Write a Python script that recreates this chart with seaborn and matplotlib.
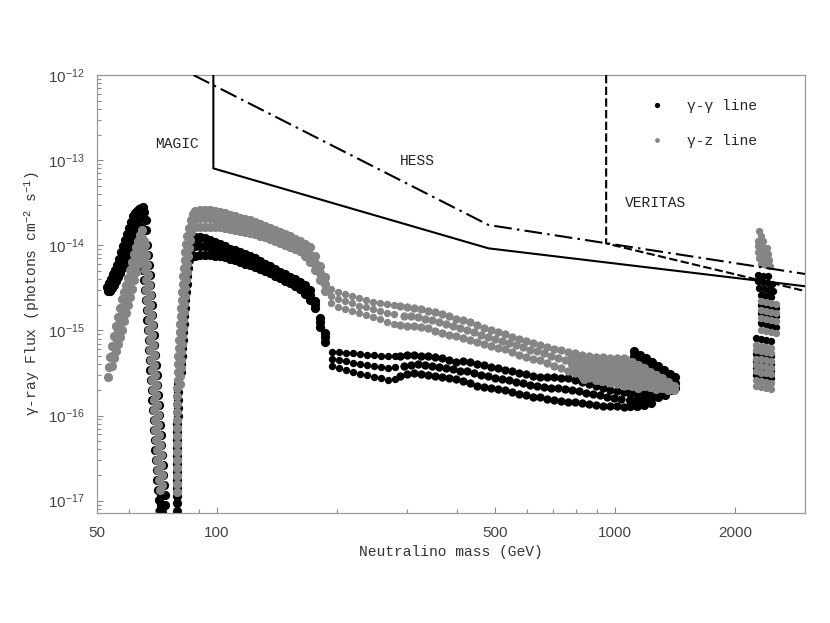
import matplotlib
matplotlib.use("Agg")
import matplotlib.pyplot as plt
import pandas as pd
import seaborn as sns
from matplotlib.lines import Line2D
from matplotlib.ticker import (FixedLocator, FixedFormatter, NullFormatter,
                               LogLocator, LogFormatterSciNotation)

# ------------------------------------------------------------------
# DATA (mass in GeV, flux in photons cm^-2 s^-1)
# ------------------------------------------------------------------
# ---- gamma-gamma line (black) ----
gg_peak_hi_m = [52.98, 53.60, 54.22, 54.86, 55.50, 56.14, 56.80, 57.46, 58.13, 58.81, 59.50,
                60.19, 60.89, 61.60, 62.32, 63.05, 63.78, 64.53, 65.28, 65.8, 66.2, 66.4]
gg_peak_hi_f = [3.23e-15, 3.60e-15, 4.02e-15, 4.60e-15, 5.13e-15, 5.87e-15, 6.90e-15, 8.34e-15,
                9.82e-15, 1.15e-14, 1.36e-14, 1.60e-14, 1.88e-14, 2.21e-14, 2.39e-14, 2.53e-14,
                2.67e-14, 2.74e-14, 2.81e-14, 2.46e-14, 1.98e-14, 1.51e-14]
gg_peak_lo_m = [53.29, 53.91, 54.54, 55.18, 55.82, 56.47, 57.13, 57.80, 58.47, 59.16, 59.84,
                60.54, 61.25, 61.96, 62.69, 63.42, 64.15, 64.90]
gg_peak_lo_f = [2.93e-15, 2.88e-15, 3.15e-15, 3.42e-15, 3.80e-15, 4.24e-15, 4.73e-15, 5.41e-15,
                6.03e-15, 6.72e-15, 7.69e-15, 8.57e-15, 9.82e-15, 1.12e-14, 1.25e-14, 1.43e-14,
                1.56e-14, 1.60e-14]
gg_peak_mid_m = [53.91, 54.54, 55.18, 55.82, 56.47, 57.13, 57.80, 58.47, 59.16, 59.84, 60.54,
                 61.25, 61.96, 62.69, 63.42, 64.15, 64.90]
gg_peak_mid_f = [3.28e-15, 3.70e-15, 4.07e-15, 4.60e-15, 5.20e-15, 6.03e-15, 6.99e-15, 8.01e-15,
                 9.17e-15, 1.06e-14, 1.22e-14, 1.41e-14, 1.60e-14, 1.76e-14, 1.93e-14, 2.04e-14,
                 2.09e-14]
gg_fall_l_m = [64.5, 64.7, 65.0, 65.4, 65.7, 66.0, 66.3, 66.6, 66.9, 67.1, 67.4, 67.6, 67.9, 68.1,
               68.4, 68.6, 68.9, 69.1, 69.4, 69.6, 69.8, 70.1, 70.4, 70.6, 70.9, 71.3, 71.6, 72.0]
gg_fall_l_f = [1.15e-14, 8.81e-15, 6.72e-15, 5.13e-15, 3.91e-15, 2.98e-15, 2.28e-15, 1.74e-15,
               1.33e-15, 1.01e-15, 7.72e-16, 5.89e-16, 4.49e-16, 3.43e-16, 2.62e-16, 2.00e-16,
               1.52e-16, 1.16e-16, 8.87e-17, 6.77e-17, 5.16e-17, 3.94e-17, 3.01e-17, 2.29e-17,
               1.75e-17, 1.34e-17, 1.02e-17, 7.77e-18]
gg_fall_r_m = [66.6, 67.0, 67.4, 67.8, 68.1, 68.4, 68.6, 68.9, 69.2, 69.5, 69.7, 70.0, 70.3, 70.6,
               70.9, 71.1, 71.4, 71.7, 72.0, 72.2, 72.5, 72.8, 73.1, 73.4, 73.6, 73.9, 74.1,
               72.46, 72.6, 72.7]
gg_fall_r_f = [1.01e-14, 7.69e-15, 5.87e-15, 4.48e-15, 3.42e-15, 2.61e-15, 1.99e-15, 1.52e-15,
               1.16e-15, 8.84e-16, 6.74e-16, 5.14e-16, 3.93e-16, 3.00e-16, 2.28e-16, 1.74e-16,
               1.33e-16, 1.02e-16, 7.75e-17, 5.91e-17, 4.51e-17, 3.44e-17, 2.63e-17, 2.00e-17,
               1.53e-17, 1.17e-17, 8.90e-18, 1.17e-17, 8.9e-18, 7.4e-18]
gg_col_m = [79.4, 79.4, 79.4, 79.4, 79.4, 79.4, 79.4, 79.4, 79.4, 79.4, 79.4, 79.4,
            80.1, 80.1, 80.1, 80.1, 80.1]
gg_col_f = [7.56e-18, 9.39e-18, 1.14e-17, 1.41e-17, 1.75e-17, 2.18e-17, 2.70e-17, 3.35e-17,
            4.16e-17, 5.16e-17, 6.42e-17, 7.96e-17, 9.88e-17, 1.23e-16, 1.52e-16, 1.89e-16, 2.35e-16]
gg_rise_m = [81.1, 81.3, 81.6, 81.8, 82.0, 82.3, 82.5, 82.8, 83.1, 83.4, 83.7, 84.0, 84.3, 84.7,
             85.2, 85.8, 86.5, 87.4, 88.4]
gg_rise_f = [3.25e-16, 4.03e-16, 5.01e-16, 6.22e-16, 7.72e-16, 9.60e-16, 1.19e-15, 1.48e-15,
             1.83e-15, 2.28e-15, 2.83e-15, 3.51e-15, 4.36e-15, 5.41e-15, 6.72e-15, 8.34e-15,
             9.82e-15, 1.09e-14, 1.19e-14]

band_m = [88.1, 90.7, 93.4, 96.1, 98.96, 101.9, 104.9, 108.0, 111.1, 114.4, 117.8, 121.2, 124.8,
          128.4, 132.2, 136.1, 140.1, 144.2, 148.4, 152.8, 157.3, 161.9, 166.6, 171.5, 176.6,
          181.7, 187.1]
gg_band_top = [1.25e-14, 1.25e-14, 1.22e-14, 1.15e-14, 1.09e-14, 1.04e-14, 9.82e-15, 9.05e-15,
               8.81e-15, 8.34e-15, 7.90e-15, 7.49e-15, 7.09e-15, 6.54e-15, 6.03e-15, 5.71e-15,
               5.27e-15, 4.86e-15, 4.60e-15, 4.24e-15, 4.02e-15, 3.70e-15, 3.42e-15, 2.98e-15,
               2.22e-15, 1.40e-15, 9.33e-16]
gg_band_mid = [9.69e-15, 9.82e-15, 9.69e-15, 9.43e-15, 9.05e-15, 8.75e-15, 8.46e-15, 7.90e-15,
               7.64e-15, 7.29e-15, 6.90e-15, 6.58e-15, 6.27e-15, 5.87e-15, 5.49e-15, 5.16e-15,
               4.79e-15, 4.45e-15, 4.18e-15, 3.88e-15, 3.65e-15, 3.37e-15, 3.02e-15, 2.61e-15,
               2.02e-15, 1.24e-15, 8.26e-16]
gg_band_bot = [7.49e-15, 7.69e-15, 7.69e-15, 7.69e-15, 7.49e-15, 7.39e-15, 7.29e-15, 6.90e-15,
               6.63e-15, 6.36e-15, 6.03e-15, 5.79e-15, 5.56e-15, 5.27e-15, 4.99e-15, 4.67e-15,
               4.36e-15, 4.07e-15, 3.80e-15, 3.56e-15, 3.32e-15, 3.07e-15, 2.68e-15, 2.28e-15,
               1.83e-15, 1.10e-15, 7.32e-16]

gg_streak_m = [194.8, 202.8, 211.2, 219.9, 229.0, 238.8, 248.3, 258.6, 269.2, 280.4]
gg_streak_top = [5.58e-16, 5.50e-16, 5.43e-16, 5.36e-16, 5.29e-16, 5.14e-16, 5.14e-16, 5.01e-16,
                 4.94e-16, 5.01e-16]
gg_streak_mid = [4.61e-16, 4.46e-16, 4.31e-16, 4.17e-16, 4.03e-16, 3.93e-16, 3.82e-16, 3.72e-16,
                 3.59e-16, 3.67e-16]
gg_streak_bot = [3.82e-16, 3.62e-16, 3.43e-16, 3.25e-16, 3.08e-16, 3.00e-16, 2.84e-16, 2.76e-16,
                 2.62e-16, 2.69e-16]

tail_m = [288.6, 300.6, 313.0, 326.0, 339.5, 353.4, 368.1, 383.4, 399.2, 415.8, 432.7, 450.7,
          469.3, 488.8, 509.0, 529.8, 551.8, 574.6, 598.4, 623.2, 648.9, 675.8, 703.7, 732.8,
          763.2, 794.6, 827.5, 861.8, 897.4, 934.6, 973.0, 1013, 1055]
tail_mid_m = [294.5, 306.8, 319.4, 332.7, 346.5, 360.7, 375.6, 391.3, 407.4, 424.3, 441.6, 459.9,
              478.9, 498.8, 519.4, 540.7, 563.1, 586.4, 610.7, 636.0, 662.2, 689.7, 718.1, 747.8,
              778.9, 810.9, 844.5, 879.5, 915.8, 953.8, 993.0, 1034]
gg_tail_top = [5.01e-16, 5.08e-16, 5.14e-16, 5.01e-16, 4.94e-16, 4.81e-16, 4.68e-16, 4.49e-16,
               4.26e-16, 4.31e-16, 4.20e-16, 4.03e-16, 3.87e-16, 3.72e-16, 3.57e-16, 3.43e-16,
               3.29e-16, 3.16e-16, 3.04e-16, 2.92e-16, 2.86e-16, 2.84e-16, 2.82e-16, 2.78e-16,
               2.76e-16, 2.62e-16, 2.48e-16, 2.35e-16, 2.22e-16, 2.11e-16, 2.00e-16, 1.94e-16,
               1.89e-16]
gg_tail_bot = [2.92e-16, 3.08e-16, 3.14e-16, 3.08e-16, 3.00e-16, 2.92e-16, 2.84e-16, 2.76e-16,
               2.65e-16, 2.55e-16, 2.41e-16, 2.25e-16, 2.16e-16, 2.08e-16, 2.03e-16, 1.97e-16,
               1.89e-16, 1.81e-16, 1.74e-16, 1.67e-16, 1.65e-16, 1.58e-16, 1.54e-16, 1.50e-16,
               1.46e-16, 1.44e-16, 1.40e-16, 1.37e-16, 1.33e-16, 1.31e-16, 1.29e-16, 1.28e-16,
               1.27e-16]
gg_tail_mid = [3.82e-16, 3.95e-16, 4.01e-16, 3.93e-16, 3.85e-16, 3.75e-16, 3.65e-16, 3.52e-16,
               3.36e-16, 3.31e-16, 3.18e-16, 3.02e-16, 2.90e-16, 2.78e-16, 2.69e-16, 2.60e-16,
               2.50e-16, 2.40e-16, 2.30e-16, 2.21e-16, 2.17e-16, 2.12e-16, 2.08e-16, 2.05e-16,
               2.01e-16, 1.94e-16, 1.86e-16, 1.79e-16, 1.72e-16, 1.66e-16, 1.61e-16, 1.58e-16]

gg_wedge_m = [1118, 1118, 1157, 1157, 1198, 1198, 1240, 1240, 1284, 1284, 1329, 1329, 1377, 1377,
              1417, 1417, 1417,
              1092, 1092, 1092, 1137, 1137, 1137, 1184, 1184, 1184, 1233, 1233, 1233, 1284, 1284,
              1337, 1337, 1385]
gg_wedge_f = [5.78e-16, 4.98e-16, 5.20e-16, 4.48e-16, 4.68e-16, 4.03e-16, 4.20e-16, 3.62e-16,
              3.78e-16, 3.26e-16, 3.40e-16, 2.94e-16, 3.05e-16, 2.64e-16, 2.80e-16, 2.41e-16,
              2.11e-16,
              1.84e-16, 1.52e-16, 1.29e-16, 1.84e-16, 1.52e-16, 1.29e-16, 1.84e-16, 1.56e-16,
              1.33e-16, 1.89e-16, 1.61e-16, 1.40e-16, 1.94e-16, 1.65e-16, 1.94e-16, 1.74e-16,
              2.00e-16]

gg_cluster_m = [2282, 2349, 2418, 2282, 2349, 2418, 2474, 2295, 2362, 2432, 2489, 2322, 2390, 2460,
                2362,
                2322, 2390, 2460, 2532, 2322, 2390, 2460, 2532, 2322, 2390, 2460, 2532,
                2256, 2322, 2390, 2460, 2256, 2322, 2390, 2460, 2256, 2322, 2390, 2460,
                2256, 2322, 2390, 2460, 2256, 2322, 2390, 2460]
gg_cluster_f = [4.48e-15, 4.40e-15, 4.36e-15, 3.80e-15, 3.70e-15, 3.60e-15, 3.51e-15, 3.15e-15,
                3.07e-15, 2.98e-15, 2.90e-15, 2.61e-15, 2.54e-15, 2.47e-15, 2.28e-15,
                1.97e-15, 1.92e-15, 1.86e-15, 1.82e-15, 1.58e-15, 1.54e-15, 1.50e-15, 1.46e-15,
                1.21e-15, 1.18e-15, 1.14e-15, 1.11e-15,
                8.04e-16, 7.83e-16, 7.62e-16, 7.42e-16, 5.35e-16, 5.21e-16, 5.07e-16, 4.94e-16,
                4.31e-16, 4.20e-16, 4.08e-16, 3.98e-16, 3.57e-16, 3.48e-16, 3.38e-16, 3.29e-16,
                2.96e-16, 2.88e-16, 2.80e-16, 2.73e-16]

# ---- gamma-Z line (grey) ----
gz_peak_hi_m = [53.91, 54.54, 55.18, 55.82, 56.47, 57.13, 57.80, 58.47, 59.16, 59.84, 60.54,
                61.25, 61.96, 62.69, 63.42, 64.15, 64.90]
gz_peak_hi_f = [4.87e-16, 6.57e-16, 8.61e-16, 1.13e-15, 1.44e-15, 1.83e-15, 2.34e-15, 2.83e-15,
                3.42e-15, 4.13e-15, 5.13e-15, 6.36e-15, 7.90e-15, 9.56e-15, 1.12e-14, 1.32e-14,
                1.51e-14]
gz_peak_lo_m = [53.29, 54.54, 55.18, 55.82, 56.47, 57.13, 57.80, 58.47, 59.16, 59.84, 60.54,
                61.25, 61.96, 62.69, 63.42, 64.15, 64.90, 65.66]
gz_peak_lo_f = [2.84e-16, 3.82e-16, 4.74e-16, 5.73e-16, 6.93e-16, 8.38e-16, 1.01e-15, 1.29e-15,
                1.60e-15, 1.99e-15, 2.47e-15, 3.06e-15, 3.91e-15, 4.86e-15, 6.03e-15, 7.49e-15,
                9.30e-15, 1.12e-14]
gz_peak_mid_m = [53.60, 54.54, 55.18, 55.82, 56.47, 57.13, 57.80, 58.47, 59.16, 59.84, 60.54,
                 61.25, 61.96, 62.69, 63.42, 64.15, 64.90]
gz_peak_mid_f = [3.72e-16, 5.01e-16, 6.40e-16, 8.15e-16, 1.01e-15, 1.26e-15, 1.56e-15, 1.94e-15,
                 2.34e-15, 2.90e-15, 3.60e-15, 4.48e-15, 5.56e-15, 6.72e-15, 8.34e-15, 1.01e-14,
                 1.22e-14]
gz_fall_l_m = [65.0, 65.2, 65.5, 65.9, 66.2, 66.5, 66.8, 67.1, 67.4, 67.6, 67.9, 68.1, 68.4, 68.6,
               68.9, 69.1, 69.4, 69.6, 69.9, 70.1, 70.4, 70.6, 70.9, 71.2, 71.5, 71.8]
gz_fall_l_f = [1.15e-14, 8.81e-15, 6.72e-15, 5.13e-15, 3.91e-15, 2.98e-15, 2.28e-15, 1.74e-15,
               1.33e-15, 1.01e-15, 7.72e-16, 5.89e-16, 4.49e-16, 3.43e-16, 2.62e-16, 2.00e-16,
               1.52e-16, 1.16e-16, 8.87e-17, 6.77e-17, 5.16e-17, 3.94e-17, 3.01e-17, 2.29e-17,
               1.75e-17, 1.34e-17]
gz_fall_r_m = [66.0, 66.4, 66.8, 67.2, 67.5, 67.8, 68.0, 68.3, 68.6, 68.9, 69.1, 69.4, 69.7, 70.0,
               70.3, 70.5, 70.8, 71.0, 71.3, 71.6, 71.9, 72.2, 72.5, 72.7, 73.0]
gz_fall_r_f = [1.01e-14, 7.69e-15, 5.87e-15, 4.48e-15, 3.42e-15, 2.61e-15, 1.99e-15, 1.52e-15,
               1.16e-15, 8.84e-16, 6.74e-16, 5.14e-16, 3.93e-16, 3.00e-16, 2.28e-16, 1.74e-16,
               1.33e-16, 1.02e-16, 7.75e-17, 5.91e-17, 4.51e-17, 3.44e-17, 2.63e-17, 2.00e-17,
               1.53e-17]
gz_col_m = [79.3, 79.3, 79.3, 79.3, 79.4, 79.4, 79.4, 79.4, 79.5, 79.5, 79.5, 79.6, 79.6, 79.6,
            79.7, 79.8, 79.9, 80.1, 80.2, 80.4, 80.6, 80.8, 81.1, 81.4, 81.6, 81.8, 82.1, 82.4,
            82.7, 83.0, 83.4, 83.8, 84.3, 84.9, 85.9, 87.2]
gz_col_f = [1.27e-17, 1.58e-17, 1.96e-17, 2.44e-17, 3.01e-17, 3.74e-17, 4.64e-17, 5.76e-17,
            7.15e-17, 8.87e-17, 1.10e-16, 1.37e-16, 1.70e-16, 2.11e-16, 2.62e-16, 3.25e-16,
            4.03e-16, 5.01e-16, 6.22e-16, 7.72e-16, 9.60e-16, 1.19e-15, 1.48e-15, 1.83e-15,
            2.28e-15, 2.83e-15, 3.51e-15, 4.36e-15, 5.41e-15, 6.72e-15, 8.34e-15, 1.04e-14,
            1.29e-14, 1.60e-14, 1.98e-14, 2.33e-14]
gz_rise_m = [80.8, 81.0, 81.2, 81.3, 81.5, 81.7, 81.9, 82.1, 82.4, 82.6, 82.8, 83.1, 83.4, 83.7,
             84.0, 84.3, 84.7, 85.1, 85.7, 86.3, 87.2, 88.4]
gz_rise_f = [2.35e-16, 2.92e-16, 3.62e-16, 4.49e-16, 5.58e-16, 6.93e-16, 8.61e-16, 1.07e-15,
             1.33e-15, 1.65e-15, 2.04e-15, 2.54e-15, 3.15e-15, 3.91e-15, 4.86e-15, 6.03e-15,
             7.49e-15, 9.30e-15, 1.15e-14, 1.43e-14, 1.78e-14, 2.21e-14]
gz_band_top = [2.53e-14, 2.60e-14, 2.60e-14, 2.60e-14, 2.53e-14, 2.46e-14, 2.39e-14, 2.27e-14,
               2.21e-14, 2.09e-14, 2.04e-14, 1.98e-14, 1.88e-14, 1.78e-14, 1.69e-14, 1.60e-14,
               1.51e-14, 1.43e-14, 1.36e-14, 1.29e-14, 1.19e-14, 1.12e-14, 1.04e-14, 9.56e-15,
               7.49e-15, 5.71e-15, 4.24e-15]
gz_band_mid = [2.04e-14, 2.09e-14, 2.09e-14, 2.09e-14, 2.04e-14, 2.04e-14, 1.98e-14, 1.88e-14,
               1.83e-14, 1.78e-14, 1.73e-14, 1.64e-14, 1.60e-14, 1.51e-14, 1.47e-14, 1.40e-14,
               1.32e-14, 1.25e-14, 1.19e-14, 1.12e-14, 1.04e-14, 9.82e-15, 8.81e-15, 7.69e-15,
               6.19e-15, 4.73e-15, 3.51e-15]
gz_band_bot = [1.64e-14, 1.64e-14, 1.64e-14, 1.64e-14, 1.64e-14, 1.64e-14, 1.60e-14, 1.56e-14,
               1.51e-14, 1.47e-14, 1.43e-14, 1.40e-14, 1.36e-14, 1.29e-14, 1.25e-14, 1.19e-14,
               1.12e-14, 1.06e-14, 1.01e-14, 9.56e-15, 9.05e-15, 8.57e-15, 7.49e-15, 6.36e-15,
               5.13e-15, 3.91e-15, 2.90e-15]
gz_streak_m = [193.6, 201.7, 210.0, 218.7, 227.7, 237.1, 246.9, 257.1, 267.7, 278.8]
gz_streak_top = [3.07e-15, 2.83e-15, 2.68e-15, 2.54e-15, 2.40e-15, 2.28e-15, 2.16e-15, 2.10e-15,
                 2.04e-15, 1.99e-15]
gz_streak_mid = [2.54e-15, 2.31e-15, 2.19e-15, 2.07e-15, 1.96e-15, 1.86e-15, 1.76e-15, 1.69e-15,
                 1.60e-15, 1.54e-15]
gz_streak_bot = [2.10e-15, 1.89e-15, 1.79e-15, 1.69e-15, 1.60e-15, 1.52e-15, 1.44e-15, 1.36e-15,
                 1.26e-15, 1.19e-15]
gz_tail_top = [1.94e-15, 1.90e-15, 1.84e-15, 1.78e-15, 1.68e-15, 1.63e-15, 1.57e-15, 1.47e-15,
               1.37e-15, 1.31e-15, 1.26e-15, 1.16e-15, 1.08e-15, 1.00e-15, 9.50e-16, 8.97e-16,
               8.47e-16, 8.00e-16, 7.55e-16, 7.14e-16, 6.74e-16, 6.38e-16, 6.09e-16, 5.86e-16,
               5.64e-16, 5.36e-16, 5.11e-16, 5.02e-16, 4.93e-16, 4.83e-16, 4.74e-16, 4.74e-16,
               4.69e-16]
gz_tail_bot = [1.16e-15, 1.14e-15, 1.12e-15, 1.10e-15, 1.08e-15, 9.96e-16, 9.23e-16, 8.89e-16,
               8.56e-16, 8.17e-16, 7.72e-16, 7.30e-16, 6.89e-16, 6.53e-16, 6.29e-16, 5.97e-16,
               5.61e-16, 5.20e-16, 4.87e-16, 4.66e-16, 4.49e-16, 4.17e-16, 3.86e-16, 3.58e-16,
               3.32e-16, 3.12e-16, 2.95e-16, 2.78e-16, 2.63e-16, 2.51e-16, 2.41e-16, 2.32e-16,
               2.23e-16]
gz_tail_mid = [1.48e-15, 1.46e-15, 1.42e-15, 1.37e-15, 1.32e-15, 1.24e-15, 1.18e-15, 1.12e-15,
               1.06e-15, 1.00e-15, 9.52e-16, 8.91e-16, 8.38e-16, 7.93e-16, 7.55e-16, 7.20e-16,
               6.78e-16, 6.34e-16, 5.95e-16, 5.71e-16, 5.42e-16, 5.06e-16, 4.77e-16, 4.50e-16,
               4.27e-16, 4.03e-16, 3.85e-16, 3.70e-16, 3.56e-16, 3.44e-16, 3.32e-16, 3.23e-16]
gz_wedge_m = [780.9, 780.9, 780.9, 808.5, 808.5, 808.5, 837.1, 837.1, 837.1, 837.1,
              866.7, 866.7, 866.7, 897.4, 897.4, 897.4, 897.4, 929.1, 929.1, 929.1, 929.1,
              961.9, 961.9, 961.9, 961.9, 995.9, 995.9, 995.9, 995.9, 1031, 1031, 1031, 1031,
              1067, 1067, 1067, 1067, 1067, 1105, 1105, 1105, 1105, 1105,
              1144, 1144, 1144, 1144, 1144, 1185, 1185, 1185, 1185, 1226, 1226, 1226, 1226,
              1270, 1270, 1270, 1270, 1315, 1315, 1315, 1361, 1361, 1361, 1409, 1409]
gz_wedge_f = [4.74e-16, 4.03e-16, 3.43e-16, 4.49e-16, 3.82e-16, 3.25e-16,
              4.37e-16, 3.72e-16, 3.16e-16, 2.69e-16, 4.26e-16, 3.62e-16, 3.08e-16,
              4.26e-16, 3.62e-16, 3.08e-16, 2.62e-16, 4.14e-16, 3.52e-16, 3.00e-16, 2.55e-16,
              4.14e-16, 3.52e-16, 3.00e-16, 2.55e-16, 4.14e-16, 3.52e-16, 3.00e-16, 2.55e-16,
              4.26e-16, 3.62e-16, 3.08e-16, 2.62e-16,
              4.49e-16, 3.82e-16, 3.25e-16, 2.76e-16, 2.35e-16,
              4.26e-16, 3.62e-16, 3.08e-16, 2.62e-16, 2.22e-16,
              3.93e-16, 3.34e-16, 2.84e-16, 2.41e-16, 2.11e-16,
              3.62e-16, 3.08e-16, 2.62e-16, 2.22e-16, 3.25e-16, 2.84e-16, 2.48e-16, 2.16e-16,
              3.00e-16, 2.62e-16, 2.28e-16, 2.05e-16, 2.76e-16, 2.41e-16, 2.11e-16,
              2.48e-16, 2.22e-16, 2.00e-16, 2.22e-16, 2.00e-16]
gz_cluster_m = [2295, 2322, 2282, 2349, 2282, 2349, 2404, 2282, 2349, 2418, 2295, 2362, 2432, 2322,
                2390, 2446,
                2322, 2390, 2460, 2532, 2322, 2390, 2460, 2532, 2322, 2390, 2460, 2532,
                2322, 2390, 2460, 2532,
                2256, 2322, 2390, 2460, 2256, 2322, 2390, 2460, 2256, 2322, 2390, 2460,
                2256, 2322, 2390, 2460, 2256, 2322, 2390, 2460, 2256, 2322, 2390, 2460,
                2256, 2322, 2390, 2460]
gz_cluster_f = [1.47e-14, 1.29e-14, 1.12e-14, 1.12e-14, 9.82e-15, 9.56e-15, 9.30e-15, 8.34e-15,
                8.12e-15, 7.90e-15, 7.09e-15, 6.90e-15, 6.72e-15, 6.03e-15, 5.87e-15, 5.71e-15,
                2.19e-15, 2.13e-15, 2.07e-15, 2.02e-15, 1.72e-15, 1.67e-15, 1.63e-15, 1.59e-15,
                1.38e-15, 1.35e-15, 1.31e-15, 1.28e-15, 1.00e-15, 9.73e-16, 9.47e-16, 9.22e-16,
                6.65e-16, 6.48e-16, 6.30e-16, 6.14e-16, 5.81e-16, 5.66e-16, 5.51e-16, 5.36e-16,
                4.67e-16, 4.55e-16, 4.43e-16, 4.31e-16, 3.87e-16, 3.77e-16, 3.67e-16, 3.57e-16,
                3.29e-16, 3.20e-16, 3.12e-16, 3.04e-16, 2.58e-16, 2.51e-16, 2.45e-16, 2.38e-16,
                2.20e-16, 2.14e-16, 2.08e-16, 2.03e-16]

# ---- experimental sensitivity curves ----
magic_m = [98, 98, 481, 3000]
magic_f = [1.0e-12, 8.0e-14, 9.2e-15, 3.3e-15]
hess_m = [87.3, 481, 3000]
hess_f = [1.0e-12, 1.73e-14, 4.6e-15]
veritas_m = [950, 950, 3000]
veritas_f = [1.0e-12, 1.05e-14, 2.9e-15]

# tick values
xtick_major = [50, 100, 500, 1000, 2000]
xtick_labels = ["50", "100", "500", "1000", "2000"]
xtick_minor = [60, 70, 80, 90, 200, 300, 400, 600, 700, 800, 900]
ytick_major = [1e-17, 1e-16, 1e-15, 1e-14, 1e-13, 1e-12]


def seg(m, f):
    return pd.DataFrame({"mass": m, "flux": f})


black_dense = pd.concat([
    seg(gg_peak_hi_m, gg_peak_hi_f), seg(gg_peak_lo_m, gg_peak_lo_f),
    seg(gg_peak_mid_m, gg_peak_mid_f), seg(gg_fall_l_m, gg_fall_l_f),
    seg(gg_fall_r_m, gg_fall_r_f), seg(gg_col_m, gg_col_f), seg(gg_rise_m, gg_rise_f),
    seg(band_m, gg_band_top), seg(band_m, gg_band_mid), seg(band_m, gg_band_bot),
    seg(gg_wedge_m, gg_wedge_f)], ignore_index=True)
black_tail = pd.concat([
    seg(tail_m, gg_tail_top), seg(tail_mid_m, gg_tail_mid), seg(tail_m, gg_tail_bot)],
    ignore_index=True)
black_sparse = pd.concat([
    seg(gg_streak_m, gg_streak_top), seg(gg_streak_m, gg_streak_mid),
    seg(gg_streak_m, gg_streak_bot), seg(gg_cluster_m, gg_cluster_f)], ignore_index=True)

grey_dense = pd.concat([
    seg(gz_peak_hi_m, gz_peak_hi_f), seg(gz_peak_lo_m, gz_peak_lo_f),
    seg(gz_peak_mid_m, gz_peak_mid_f), seg(gz_fall_l_m, gz_fall_l_f),
    seg(gz_fall_r_m, gz_fall_r_f), seg(gz_col_m, gz_col_f), seg(gz_rise_m, gz_rise_f),
    seg(band_m, gz_band_top), seg(band_m, gz_band_mid), seg(band_m, gz_band_bot),
    seg(gz_wedge_m, gz_wedge_f)], ignore_index=True)
grey_tail = pd.concat([
    seg(tail_m, gz_tail_top), seg(tail_mid_m, gz_tail_mid), seg(tail_m, gz_tail_bot)],
    ignore_index=True)
grey_sparse = pd.concat([
    seg(gz_streak_m, gz_streak_top), seg(gz_streak_m, gz_streak_mid),
    seg(gz_streak_m, gz_streak_bot), seg(gz_cluster_m, gz_cluster_f)], ignore_index=True)

# ------------------------------------------------------------------
sns.set_style("white")
plt.rcParams["font.family"] = ["Liberation Sans", "DejaVu Sans"]
plt.rcParams["mathtext.default"] = "regular"
MONO = ["Liberation Mono", "DejaVu Sans"]
GREY = "#858585"
S_DENSE = 44
S_TAIL = 36
S_SPARSE = 28

fig = plt.figure(figsize=(8.3, 6.23), dpi=100)
ax = fig.add_axes([97 / 830, 1 - 513.3 / 623, 708 / 830, 438.3 / 623])
ax.set_xscale("log")
ax.set_yscale("log")

for df, col, size in [(black_dense, "black", S_DENSE), (black_tail, "black", S_TAIL),
                      (black_sparse, "black", S_SPARSE),
                      (grey_dense, GREY, S_DENSE), (grey_tail, GREY, S_TAIL),
                      (grey_sparse, GREY, S_SPARSE)]:
    sns.scatterplot(data=df, x="mass", y="flux", color=col, s=size, linewidth=0,
                    legend=False, ax=ax, zorder=2)

sns.lineplot(x=magic_m, y=magic_f, sort=False, estimator=None, color="black",
             linewidth=1.5, ax=ax, zorder=3)
sns.lineplot(x=hess_m, y=hess_f, sort=False, estimator=None, color="black",
             linewidth=1.5, linestyle=(0, (8.5, 2.5, 1.2, 2.5)), ax=ax, zorder=3)
sns.lineplot(x=veritas_m, y=veritas_f, sort=False, estimator=None, color="black",
             linewidth=1.5, linestyle=(0, (4, 1.6)), ax=ax, zorder=3)

ax.set_xlim(50, 3000)
ax.set_ylim(7.1e-18, 1e-12)

ax.xaxis.set_major_locator(FixedLocator(xtick_major))
ax.xaxis.set_major_formatter(FixedFormatter(xtick_labels))
ax.xaxis.set_minor_locator(FixedLocator(xtick_minor))
ax.xaxis.set_minor_formatter(NullFormatter())
ax.yaxis.set_major_locator(FixedLocator(ytick_major))
ax.yaxis.set_major_formatter(LogFormatterSciNotation())
ax.yaxis.set_minor_locator(LogLocator(base=10, subs=(2, 3, 4, 5, 6, 7, 8, 9), numticks=12))
ax.yaxis.set_minor_formatter(NullFormatter())

ax.tick_params(which="both", direction="in", color="#8a8a8a", width=0.8,
               bottom=True, left=True, top=False, right=False)
ax.tick_params(which="major", length=4.5, labelsize=11, labelcolor="#444444", pad=9)
ax.tick_params(which="minor", length=3)
for sp in ax.spines.values():
    sp.set_color("#9a9a9a")
    sp.set_linewidth(0.9)

ax.set_xlabel("Neutralino mass (GeV)", family=MONO, fontsize=10.5, color="#333333")
ax.xaxis.set_label_coords(0.5, -0.072)
ax.set_ylabel("\u03b3-ray Flux (photons cm$^{-2}$ s$^{-1}$)", family=MONO, fontsize=10.5,
              color="#333333")
ax.yaxis.set_label_coords(-0.077, 0.5)

ax.text(79.4, 1.55e-13, "MAGIC", family=MONO, fontsize=10.5, ha="center", va="center",
        color="#222222")
ax.text(318, 9.85e-14, "HESS", family=MONO, fontsize=10.5, ha="center", va="center",
        color="#222222")
ax.text(1261, 3.11e-14, "VERITAS", family=MONO, fontsize=10.5, ha="center", va="center",
        color="#222222")

handles = [Line2D([], [], marker="o", linestyle="", color="black", markersize=3.8,
                  markeredgewidth=0),
           Line2D([], [], marker="o", linestyle="", color=GREY, markersize=3.4,
                  markeredgewidth=0)]
ax.legend(handles, ["\u03b3-\u03b3 line", "\u03b3-z line"], loc="upper left",
          bbox_to_anchor=(0.7804, 0.9452), frameon=False,
          prop={"family": MONO, "size": 10.5}, handlelength=1.0, handletextpad=1.55,
          labelspacing=1.45, borderpad=0, borderaxespad=0)

fig.savefig("out.png", dpi=100)
